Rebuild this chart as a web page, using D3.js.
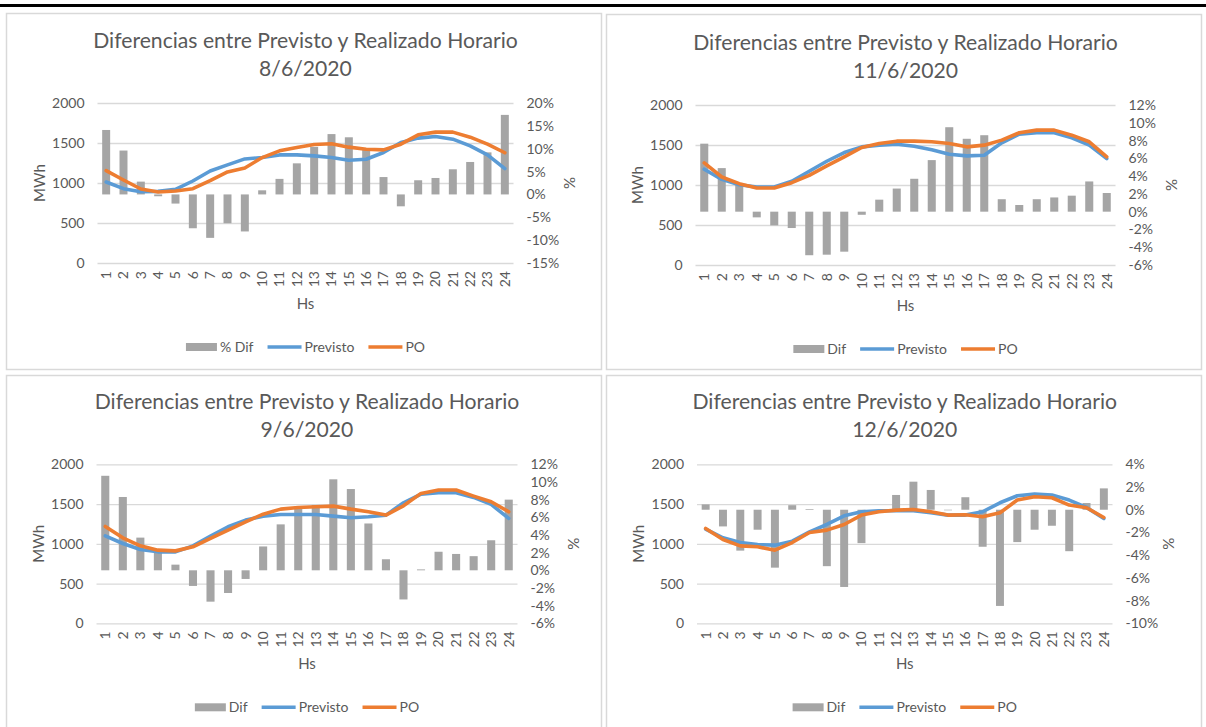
<!DOCTYPE html>
<html>
<head>
<meta charset="utf-8">
<script src="https://cdnjs.cloudflare.com/ajax/libs/d3/7.8.5/d3.min.js"></script>
<style>
  body { margin: 0; background: #fff; }
  svg { display: block; font-family: Lato, "Open Sans", sans-serif; }
</style>
</head>
<body>
<div id="chart"></div>
<script>
// hours on the x axis
var horas = ["1","2","3","4","5","6","7","8","9","10","11","12",
             "13","14","15","16","17","18","19","20","21","22","23","24"];
var mwhTicks = [0, 500, 1000, 1500, 2000];

// 8/6/2020
var fecha1 = "8/6/2020";
var dif1 = [14.1, 9.6, 2.8, -0.4, -2.0, -7.4, -9.5, -6.3, -8.1, 0.9, 3.4, 6.8,
            10.4, 13.2, 12.5, 9.8, 3.8, -2.6, 3.1, 3.6, 5.5, 7.1, 9.2, 17.4];
var prev1 = [1012, 929, 891, 895, 920, 1025, 1150, 1226, 1301, 1318, 1351, 1351,
             1339, 1318, 1285, 1297, 1381, 1506, 1561, 1582, 1548, 1464, 1351, 1180];
var po1 = [1155, 1038, 925, 887, 900, 929, 1029, 1138, 1188, 1318, 1402, 1443,
           1481, 1490, 1448, 1422, 1414, 1485, 1602, 1636, 1636, 1573, 1485, 1378];
var pctTicks1 = [-15, -10, -5, 0, 5, 10, 15, 20];

// 11/6/2020
var fecha2 = "11/6/2020";
var dif2 = [7.65, 4.9, 3.0, -0.64, -1.54, -1.84, -4.9, -4.84, -4.5, -0.35, 1.35, 2.6,
            3.7, 5.8, 9.5, 8.2, 8.6, 1.4, 0.75, 1.4, 1.6, 1.8, 3.4, 2.1];
var prev2 = [1197, 1071, 1004, 975, 975, 1046, 1172, 1297, 1406, 1477, 1498, 1510,
             1485, 1440, 1385, 1364, 1372, 1527, 1636, 1653, 1653, 1590, 1498, 1330];
var po2 = [1276, 1100, 1017, 962, 962, 1029, 1121, 1238, 1351, 1469, 1519, 1548,
           1548, 1540, 1519, 1477, 1498, 1561, 1653, 1686, 1686, 1623, 1540, 1351];
var pctTicks2 = [-6, -4, -2, 0, 2, 4, 6, 8, 10, 12];

// 9/6/2020
var fecha3 = "9/6/2020";
var dif3 = [10.7, 8.3, 3.7, 2.2, 0.64, -1.77, -3.55, -2.57, -0.98, 2.7, 5.2, 7.2,
            7.4, 10.3, 9.2, 5.3, 1.25, -3.3, 0.1, 2.1, 1.85, 1.6, 3.4, 8.0];
var prev3 = [1100, 1004, 928, 899, 899, 974, 1096, 1214, 1298, 1348, 1369, 1369,
             1369, 1348, 1327, 1340, 1361, 1516, 1625, 1642, 1642, 1583, 1495, 1319];
var po3 = [1218, 1075, 974, 920, 911, 962, 1067, 1172, 1277, 1373, 1436, 1457,
           1466, 1474, 1436, 1403, 1361, 1478, 1634, 1676, 1676, 1600, 1529, 1403];
var pctTicks3 = [-6, -4, -2, 0, 2, 4, 6, 8, 10, 12];

// 12/6/2020
var fecha4 = "12/6/2020";
var dif4 = [0.47, -1.47, -3.6, -1.76, -5.1, 0.4, 0.06, -4.97, -6.8, -2.94, 0, 1.3,
            2.47, 1.74, -0.05, 1.1, -3.26, -8.47, -2.85, -1.76, -1.41, -3.65, 0.59, 1.88];
var prev4 = [1184, 1075, 1016, 991, 983, 1033, 1151, 1243, 1352, 1403, 1415, 1415,
             1415, 1390, 1361, 1361, 1403, 1516, 1604, 1625, 1613, 1550, 1457, 1319];
var po4 = [1193, 1054, 974, 962, 920, 1016, 1142, 1172, 1243, 1361, 1403, 1424,
           1432, 1403, 1361, 1365, 1340, 1390, 1550, 1592, 1579, 1487, 1453, 1331];
var pctTicks4 = [-10, -8, -6, -4, -2, 0, 2, 4];

var textColor = "#595959",
    gridColor = "#d9d9d9",
    barColor = "#a5a5a5",
    prevColor = "#5b9bd5",
    poColor = "#ed7d31";

var W = 1206, H = 727;
var svg = d3.select("#chart").append("svg")
    .attr("width", W)
    .attr("height", H);

// black rule across the top
svg.append("rect")
    .attr("x", 0).attr("y", 4)
    .attr("width", W).attr("height", 3)
    .attr("fill", "#000");

var panels = [
  {fecha: fecha1, dif: dif1, prev: prev1, po: po1, pct: pctTicks1, difName: "% Dif",
   box: [6, 13, 595, 356], plot: {left: 97.5, right: 513.5, top: 103, bottom: 263}},
  {fecha: fecha2, dif: dif2, prev: prev2, po: po2, pct: pctTicks2, difName: "Dif",
   box: [606, 14, 595, 355], plot: {left: 695.5, right: 1115.5, top: 105, bottom: 265}},
  {fecha: fecha3, dif: dif3, prev: prev3, po: po3, pct: pctTicks3, difName: "Dif",
   box: [6, 375, 595, 360], plot: {left: 96.5, right: 517.5, top: 464.3, bottom: 623.3}},
  {fecha: fecha4, dif: dif4, prev: prev4, po: po4, pct: pctTicks4, difName: "Dif",
   box: [606, 375, 595, 360], plot: {left: 697, right: 1112.5, top: 464.3, bottom: 623.3}}
];

panels.forEach(drawPanel);

function drawPanel(p) {
  var g = svg.append("g");
  var pl = p.plot;
  var cx = (pl.left + pl.right) / 2,
      cy = (pl.top + pl.bottom) / 2;

  // panel frame
  g.append("rect")
      .attr("x", p.box[0] + 0.5).attr("y", p.box[1] + 0.5)
      .attr("width", p.box[2]).attr("height", p.box[3])
      .attr("fill", "#fff")
      .attr("stroke", gridColor)
      .attr("stroke-width", 1.5);

  var x = d3.scaleBand()
      .domain(horas)
      .range([pl.left, pl.right]);
  var yL = d3.scaleLinear()
      .domain([0, 2000])
      .range([pl.bottom, pl.top]);
  var yR = d3.scaleLinear()
      .domain([p.pct[0], p.pct[p.pct.length - 1]])
      .range([pl.bottom, pl.top]);

  // left axis + gridlines
  var ax = g.append("g")
      .attr("transform", "translate(" + pl.left + ",0)")
      .call(d3.axisLeft(yL).tickValues(mwhTicks).tickFormat(d3.format("d"))
            .tickSize(-(pl.right - pl.left)).tickPadding(13));
  ax.select(".domain").remove();
  ax.selectAll(".tick line").attr("stroke", gridColor).attr("stroke-width", 1.3);
  ax.selectAll(".tick text").attr("fill", textColor)
      .style("font-size", "14px").style("font-family", "Lato");

  // right axis (%)
  var ar = g.append("g")
      .attr("transform", "translate(" + pl.right + ",0)")
      .call(d3.axisRight(yR).tickValues(p.pct).tickSize(0).tickPadding(13)
            .tickFormat(function(d) { return d + "%"; }));
  ar.select(".domain").remove();
  ar.selectAll(".tick text").attr("fill", textColor)
      .style("font-size", "14px").style("font-family", "Lato");

  // bars
  var bw = x.bandwidth() * 0.46;
  g.selectAll(".bar")
      .data(p.dif)
    .enter().append("rect")
      .attr("x", function(d, i) { return x(horas[i]) + (x.bandwidth() - bw) / 2; })
      .attr("y", function(d) { return yR(Math.max(0, d)); })
      .attr("width", bw)
      .attr("height", function(d) { return Math.abs(yR(d) - yR(0)); })
      .attr("fill", barColor);

  // lines
  var line = d3.line()
      .x(function(d, i) { return x(horas[i]) + x.bandwidth() / 2; })
      .y(function(d) { return yL(d); });
  g.append("path").datum(p.prev)
      .attr("d", line)
      .attr("fill", "none").attr("stroke", prevColor)
      .attr("stroke-width", 3.6).attr("stroke-linejoin", "round").attr("stroke-linecap", "round");
  g.append("path").datum(p.po)
      .attr("d", line)
      .attr("fill", "none").attr("stroke", poColor)
      .attr("stroke-width", 3.6).attr("stroke-linejoin", "round").attr("stroke-linecap", "round");

  // x axis, labels rotated
  var axb = g.append("g")
      .attr("transform", "translate(0," + pl.bottom + ")")
      .call(d3.axisBottom(x).tickSize(0));
  axb.select(".domain").remove();
  axb.selectAll(".tick text")
      .attr("transform", "rotate(-90)")
      .attr("x", -8).attr("y", 0).attr("dy", "0.35em")
      .style("text-anchor", "end")
      .style("font-size", "14px").style("font-family", "Lato")
      .attr("fill", textColor);

  // axis titles
  g.append("text")
      .attr("transform", "translate(" + (pl.left - 58) + "," + cy + ") rotate(-90)")
      .attr("text-anchor", "middle").attr("dy", "0.35em")
      .attr("fill", textColor).style("font-size", "15px")
      .text("MWh");
  g.append("text")
      .attr("transform", "translate(" + (pl.right + 56) + "," + cy + ") rotate(-90)")
      .attr("text-anchor", "middle").attr("dy", "0.35em")
      .attr("fill", textColor).style("font-size", "15px")
      .text("%");
  g.append("text")
      .attr("x", cx).attr("y", pl.bottom + 46)
      .attr("text-anchor", "middle")
      .attr("fill", textColor).style("font-size", "15px")
      .text("Hs");

  // title, two lines, first line fitted to the width seen in the picture
  var t1 = g.append("text")
      .attr("x", cx).attr("y", pl.top - 55)
      .attr("text-anchor", "middle")
      .attr("fill", textColor).style("font-size", "19px")
      .text("Diferencias entre Previsto y Realizado Horario");
  var fs = 19 * 425 / t1.node().getComputedTextLength();
  t1.style("font-size", fs + "px");
  g.append("text")
      .attr("x", cx).attr("y", pl.top - 27.5)
      .attr("text-anchor", "middle")
      .attr("fill", textColor).style("font-size", fs + "px")
      .text(p.fecha);

  // legend
  var lg = g.append("g");
  var lx = 0, ly = pl.bottom + 84;
  var items = [
    {name: p.difName, type: "bar", color: barColor},
    {name: "Previsto", type: "line", color: prevColor},
    {name: "PO", type: "line", color: poColor}
  ];
  items.forEach(function(it, i) {
    if (i > 0) lx += 14;
    if (it.type == "bar") {
      lg.append("rect").attr("x", lx).attr("y", ly - 4)
        .attr("width", 31).attr("height", 8).attr("fill", it.color);
    } else {
      lg.append("line").attr("x1", lx).attr("x2", lx + 34)
        .attr("y1", ly).attr("y2", ly)
        .attr("stroke", it.color).attr("stroke-width", 3.6);
    }
    lx += (it.type == "bar" ? 31 : 34) + 3;
    var tx = lg.append("text").attr("x", lx).attr("y", ly).attr("dy", "0.35em")
        .attr("fill", textColor).style("font-size", "14px")
        .text(it.name);
    lx += tx.node().getComputedTextLength();
  });
  lg.attr("transform", "translate(" + (cx - lx / 2) + ",0)");
}
</script>
</body>
</html>
